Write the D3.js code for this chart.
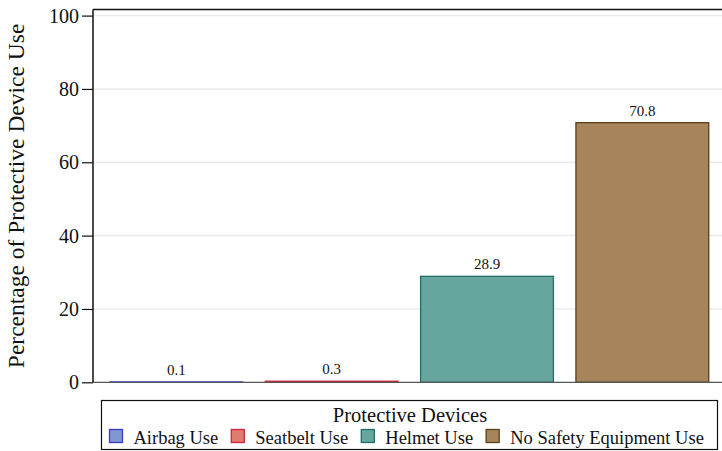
<!DOCTYPE html>
<html>
<head>
<meta charset="utf-8">
<script src="https://cdn.jsdelivr.net/npm/d3@7"></script>
<style>
  body { margin: 0; background: #fff; }
</style>
</head>
<body>
<div class="chart"></div>
<script>
// chart values
var categories = ["Airbag Use", "Seatbelt Use", "Helmet Use", "No Safety Equipment Use"];
var values = [0.1, 0.3, 28.9, 70.8];
var yTicks = [0, 20, 40, 60, 80, 100];
var fills = ["#7f96d0", "#e07b70", "#66a69e", "#a6855c"];
var strokes = ["#3a3acf", "#c8283a", "#1f6e66", "#5a3e1a"];

var serif = "'Liberation Serif', 'DejaVu Serif', serif";
var svgWidth = 722, svgHeight = 451;

var svg = d3.select(".chart").append("svg")
    .attr("width", svgWidth)
    .attr("height", svgHeight)
    .attr("font-family", serif);

// scales
var xScale = d3.scaleBand()
    .domain(categories)
    .range([98.7, 720])
    .paddingInner(0.145)
    .paddingOuter(0.0725);

var yScale = d3.scaleLinear()
    .domain([0, 100])
    .range([382.3, 15.6]);

// gridlines
svg.append("g")
  .selectAll("line")
  .data(yTicks.filter(d => d > 0))
  .enter()
  .append("line")
    .attr("x1", 93).attr("x2", svgWidth)
    .attr("y1", d => yScale(d)).attr("y2", d => yScale(d))
    .attr("stroke", "#ebebeb")
    .attr("stroke-width", 1.5);

// top border of plot region
svg.append("line")
    .attr("x1", 93).attr("x2", svgWidth)
    .attr("y1", 9.5).attr("y2", 9.5)
    .attr("stroke", "#111")
    .attr("stroke-width", 1.5);

// bars
svg.append("g")
  .selectAll("rect")
  .data(values)
  .enter()
  .append("rect")
    .attr("x", (d, i) => xScale(categories[i]))
    .attr("y", d => yScale(d))
    .attr("width", xScale.bandwidth())
    .attr("height", d => yScale(0) - yScale(d))
    .attr("fill", (d, i) => fills[i])
    .attr("stroke", (d, i) => strokes[i])
    .attr("stroke-width", 1.3);

// zero line
svg.append("line")
    .attr("x1", 93).attr("x2", svgWidth)
    .attr("y1", yScale(0)).attr("y2", yScale(0))
    .attr("stroke", "#555")
    .attr("stroke-width", 1.2);

// bar labels
svg.append("g")
  .selectAll("text")
  .data(values)
  .enter()
  .append("text")
    .attr("x", (d, i) => xScale(categories[i]) + xScale.bandwidth() / 2)
    .attr("y", d => yScale(d) - 7)
    .attr("text-anchor", "middle")
    .attr("font-size", "15px")
    .attr("fill", "#111")
    .text(d => d.toFixed(1));

// y axis
var yAxis = svg.append("g")
    .attr("transform", "translate(93,0)")
    .call(d3.axisLeft(yScale)
            .tickValues(yTicks)
            .tickSize(11)
            .tickPadding(3)
            .tickFormat(d3.format("d")));

yAxis.attr("font-family", serif);
yAxis.select(".domain")
    .attr("d", "M0," + yScale(0) + "V9.5")
    .attr("stroke", "#111")
    .attr("stroke-width", 1.5);
yAxis.selectAll(".tick line").attr("stroke", "#111").attr("stroke-width", 1.2);
yAxis.selectAll(".tick text")
    .attr("font-size", "20px")
    .attr("fill", "#111");

// y axis title
svg.append("text")
    .attr("transform", "translate(24," + ((yScale(0) + 9.5) / 2) + ") rotate(-90)")
    .attr("text-anchor", "middle")
    .attr("font-size", "23.5px")
    .attr("fill", "#111")
    .text("Percentage of Protective Device Use");

// legend
var legend = svg.append("g");

legend.append("rect")
    .attr("x", 101.5).attr("y", 400.5)
    .attr("width", 616).attr("height", 49)
    .attr("fill", "#fff")
    .attr("stroke", "#111")
    .attr("stroke-width", 1.2);

legend.append("text")
    .attr("x", 410).attr("y", 422)
    .attr("text-anchor", "middle")
    .attr("font-size", "20.5px")
    .attr("fill", "#111")
    .text("Protective Devices");

var lx = 109.5;
categories.forEach(function(c, i) {
  legend.append("rect")
      .attr("x", lx).attr("y", 429.5)
      .attr("width", 13).attr("height", 13)
      .attr("fill", fills[i])
      .attr("stroke", strokes[i])
      .attr("stroke-width", 1.3);
  var t = legend.append("text")
      .attr("x", lx + 24).attr("y", 444)
      .attr("font-size", "18.5px")
      .attr("fill", "#111")
      .text(c);
  lx = lx + 24 + t.node().getComputedTextLength() + 13;
});
</script>
</body>
</html>
